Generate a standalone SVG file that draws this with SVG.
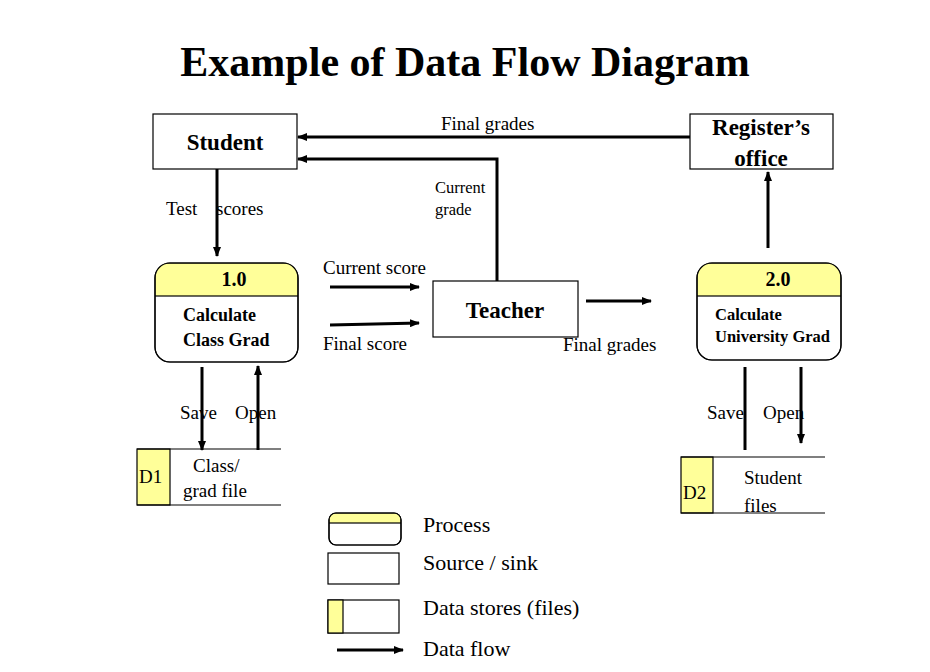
<svg xmlns="http://www.w3.org/2000/svg" width="930" height="672" viewBox="0 0 930 672">
<defs>
<marker id="ah" markerWidth="10" markerHeight="8" refX="9" refY="4" orient="auto" markerUnits="userSpaceOnUse"><path d="M0,0 L10,4 L0,8 Z" fill="#000"/></marker>
<style>
.t{font-family:"Liberation Serif",serif;fill:#000}
.l{font-size:19px}
.b{font-weight:bold}
.box{fill:#fff;stroke:#000;stroke-width:1.2}
.y{fill:#ffff99;stroke:#000;stroke-width:1.2}
.f{stroke:#000;stroke-width:3;fill:none}
.ln{stroke:#000;stroke-width:1.2}
</style>
<clipPath id="c1"><rect x="155" y="263" width="143" height="99" rx="15"/></clipPath>
<clipPath id="c2"><rect x="697" y="263" width="144" height="97" rx="15"/></clipPath>
<clipPath id="c3"><rect x="329" y="513" width="72" height="32" rx="7"/></clipPath>
</defs>
<rect width="930" height="672" fill="#fff"/>
<text class="t b" x="465" y="76" font-size="42" text-anchor="middle">Example of Data Flow Diagram</text>

<g id="student"><rect class="box" x="153" y="114" width="144" height="55"/><text class="t b" x="225" y="150" font-size="23" text-anchor="middle">Student</text></g>
<g id="register"><rect class="box" x="690" y="114" width="143" height="55"/><text class="t b" x="761" y="135" font-size="23" text-anchor="middle">Register’s</text><text class="t b" x="761" y="166" font-size="23" text-anchor="middle">office</text></g>
<g id="teacher"><rect class="box" x="433" y="281" width="145" height="56"/><text class="t b" x="505" y="318" font-size="23" text-anchor="middle">Teacher</text></g>
<g id="p1"><rect class="box" x="155" y="263" width="143" height="99" rx="15"/><rect class="y" x="155" y="263" width="143" height="33" clip-path="url(#c1)"/><rect x="155" y="263" width="143" height="99" rx="15" fill="none" stroke="#000" stroke-width="1.2"/>
<text class="t b" x="234" y="286" font-size="20" text-anchor="middle">1.0</text><text class="t b" x="183" y="321" font-size="18">Calculate</text><text class="t b" x="183" y="346" font-size="18">Class Grad</text></g>
<g id="p2"><rect class="box" x="697" y="263" width="144" height="97" rx="15"/><rect class="y" x="697" y="263" width="144" height="33" clip-path="url(#c2)"/><rect x="697" y="263" width="144" height="97" rx="15" fill="none" stroke="#000" stroke-width="1.2"/>
<text class="t b" x="778" y="286" font-size="20" text-anchor="middle">2.0</text><text class="t b" x="715" y="320" font-size="16.5">Calculate</text><text class="t b" x="715" y="342" font-size="16.5">University Grad</text></g>
<g id="d1"><rect class="y" x="137" y="449" width="33" height="56"/><line class="ln" x1="137" y1="449" x2="281" y2="449"/><line class="ln" x1="137" y1="505" x2="281" y2="505"/>
<text class="t" x="139" y="483" font-size="19">D1</text><text class="t" x="193" y="472" font-size="19">Class/</text><text class="t" x="183" y="497" font-size="19">grad  file</text></g>
<g id="d2"><rect class="y" x="681" y="457" width="32" height="56"/><line class="ln" x1="681" y1="457" x2="825" y2="457"/><line class="ln" x1="681" y1="513" x2="825" y2="513"/>
<text class="t" x="683" y="499" font-size="19">D2</text><text class="t" x="744" y="484" font-size="19">Student</text><text class="t" x="744" y="512" font-size="19">files</text></g>

<g id="connectors">
<line class="f" x1="690" y1="137" x2="298" y2="137" marker-end="url(#ah)"/>
<polyline class="f" points="497,281 497,159 298,159" marker-end="url(#ah)"/>
<line class="f" x1="217" y1="169" x2="217" y2="256" marker-end="url(#ah)"/>
<line class="f" x1="330" y1="287" x2="419" y2="287" marker-end="url(#ah)"/>
<line class="f" x1="330" y1="325" x2="419" y2="323" marker-end="url(#ah)"/>
<line class="f" x1="586" y1="301" x2="651" y2="301" marker-end="url(#ah)"/>
<line class="f" x1="768" y1="248" x2="768" y2="172" marker-end="url(#ah)"/>
<line class="f" x1="202" y1="367" x2="202" y2="450" marker-end="url(#ah)"/>
<line class="f" x1="258" y1="450" x2="258" y2="366" marker-end="url(#ah)"/>
<line class="f" x1="745" y1="367" x2="745" y2="450"/>
<line class="f" x1="801" y1="367" x2="801" y2="443" marker-end="url(#ah)"/>
</g>
<g id="labels">
<text class="t l" x="441" y="130">Final grades</text>
<text class="t" x="435" y="193" font-size="16.5">Current</text><text class="t" x="435" y="215" font-size="16.5">grade</text>
<text class="t l" x="166" y="215">Test</text><text class="t l" x="216" y="215">scores</text>
<text class="t l" x="323" y="274">Current score</text>
<text class="t l" x="323" y="350">Final score</text>
<text class="t l" x="563" y="351">Final grades</text>
<text class="t l" x="180" y="419">Save</text><text class="t l" x="235" y="419">Open</text>
<text class="t l" x="707" y="419">Save</text><text class="t l" x="763" y="419">Open</text>
</g>
<g id="legend">
<rect class="box" x="329" y="513" width="72" height="32" rx="7"/><rect class="y" x="329" y="513" width="72" height="10" clip-path="url(#c3)"/><rect x="329" y="513" width="72" height="32" rx="7" fill="none" stroke="#000" stroke-width="1.2"/>
<rect class="box" x="328" y="553" width="71" height="31"/>
<rect class="box" x="328" y="600" width="71" height="33"/><rect class="y" x="328" y="600" width="15" height="33"/>
<line class="f" x1="337" y1="650" x2="403" y2="650" marker-end="url(#ah)"/>
<text class="t" x="423" y="532" font-size="22">Process</text>
<text class="t" x="423" y="570" font-size="22">Source / sink</text>
<text class="t" x="423" y="615" font-size="22">Data stores (files)</text>
<text class="t" x="423" y="656" font-size="22">Data flow</text>
</g>
</svg>
